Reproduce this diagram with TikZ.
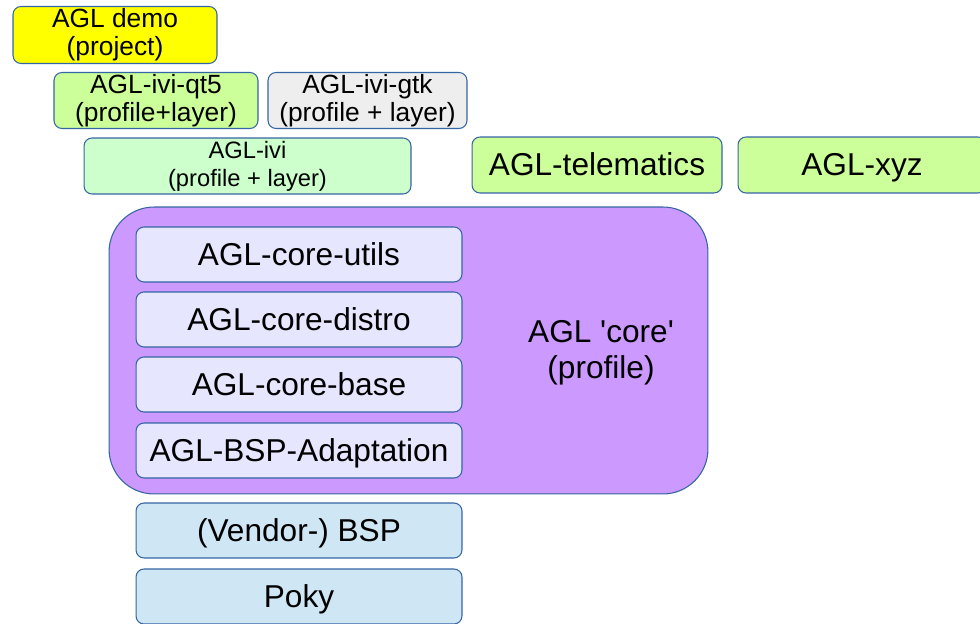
\documentclass[tikz,border=0pt]{standalone}
\usepackage{fontspec}
\setmainfont{Liberation Sans}[Ligatures=TeXOff]
\usepackage{tikz}
\usetikzlibrary{positioning}

\definecolor{edgeblue}{HTML}{3465A4}
\definecolor{demoyellow}{HTML}{FFFF00}
\definecolor{layergreen}{HTML}{CCFF99}
\definecolor{ivigreen}{HTML}{CCFFCC}
\definecolor{gtkgrey}{HTML}{EEEEEE}
\definecolor{corepurple}{HTML}{CC99FF}
\definecolor{innerlav}{HTML}{E6E6FF}
\definecolor{bspblue}{HTML}{CFE7F5}

\begin{document}
\begin{tikzpicture}[
		x=0.02cm, y=-0.02cm,
		layer/.style={draw=edgeblue, line width=0.6pt, rounded corners=0.16cm, align=center, inner sep=0pt, minimum height=1.12cm},
		small/.style={font=\fontsize{15}{16}\selectfont},
		tiny/.style={font=\fontsize{13.5}{16}\selectfont},
		big/.style={font=\fontsize{18}{20.4}\selectfont, text height=16.3pt, text depth=3.8pt},
		inner/.style={layer, big, fill=innerlav, minimum width=6.52cm, minimum height=1.1cm},
		bsp/.style={layer, big, fill=bspblue, minimum width=6.52cm, minimum height=1.1cm}
	]
	\useasboundingbox (0,0) rectangle (980,624);
	% 顶层
	\node[layer, small, fill=demoyellow, minimum width=4.08cm, minimum height=1.14cm] (demo) at (115,35) {AGL demo\\(project)};
	\node[layer, small, fill=layergreen, minimum width=4.08cm] (iviqt) at (156,100.5) {AGL-ivi-qt5\\(profile+layer)};
	\node[layer, small, fill=gtkgrey, minimum width=3.98cm] (ivigtk) at (367.5,100.5) {AGL-ivi-gtk\\(profile + layer)};
	% 配置
	\node[layer, tiny, fill=ivigreen, minimum width=6.54cm] (ivi) at (247.5,166) {AGL-ivi\\(profile + layer)};
	\node[layer, big, fill=layergreen, minimum width=5.0cm] (telematics) at (597,165) {AGL-telematics};
	\node[layer, big, fill=layergreen, minimum width=4.96cm] (xyz) at (862,165) {AGL-xyz};
	% core
	\node[draw=edgeblue, line width=0.6pt, fill=corepurple, rounded corners=0.9cm, inner sep=0pt, minimum width=11.98cm, minimum height=5.74cm] (core) at (408.5,350.5) {};
	\node[font=\fontsize{18}{20.4}\selectfont, align=center, inner sep=0pt] (corelabel) at (601,353) {AGL 'core'\\(profile)};
	\node[inner] (utils)  at (299,254.5) {AGL-core-utils};
	\node[inner] (distro) at (299,319.5) {AGL-core-distro};
	\node[inner] (base)   at (299,384.5) {AGL-core-base};
	\node[inner] (adapt)  at (299,450.5) {AGL-BSP-Adaptation};
	% 底层
	\node[bsp] (vendor) at (299,530.5) {(Vendor-) BSP};
	\node[bsp] (poky)   at (299,596.5) {Poky};
\end{tikzpicture}
\end{document}
